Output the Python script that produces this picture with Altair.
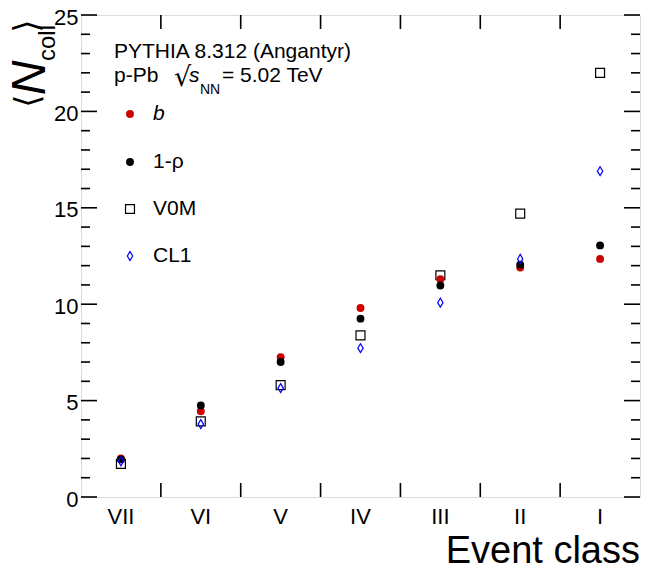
import altair as alt
import pandas as pd

categories = ["VII", "VI", "V", "IV", "III", "II", "I"]
ncoll_b = [2.0, 4.45, 7.25, 9.8, 11.3, 11.9, 12.35]
ncoll_rho = [1.95, 4.75, 7.0, 9.25, 10.97, 12.05, 13.05]
ncoll_v0m = [1.72, 3.92, 5.8, 8.38, 11.5, 14.7, 22.0]
ncoll_cl1 = [1.85, 3.78, 5.65, 7.72, 10.08, 12.35, 16.9]
y_major = [0, 5, 10, 15, 20, 25]
y_minor = [v for v in range(0, 26) if v % 5 != 0]
legend_labels = ["b", "1-ρ", "V0M", "CL1"]

W, H = 559, 482
FONT = "Liberation Sans"
RED = "#cc0000"
BLUE = "#0000ff"
DIAMOND = "M0,-1L0.6,0L0,1L-0.6,0Z"

def series(vals):
    return pd.DataFrame({"cat": categories, "v": vals})

xscale = alt.Scale(type="band", domain=categories, paddingInner=0, paddingOuter=0)
yscale = alt.Scale(domain=[0, 25], nice=False, zero=False)

xaxis = alt.Axis(title=None, ticks=False, domain=False, grid=False, labelAngle=0,
                 labelFont=FONT, labelFontSize=22, labelColor="black", labelPadding=9)
yaxis = alt.Axis(title=None, ticks=False, domain=False, grid=False, values=y_major,
                 labelFont=FONT, labelFontSize=22, labelColor="black", labelPadding=3,
                 labelOffset=2)

X = lambda **kw: alt.X("cat:N", scale=xscale, axis=xaxis, **kw)
Y = lambda: alt.Y("v:Q", scale=yscale, axis=yaxis)

def pts(vals, shape, size, filled, color):
    return alt.Chart(series(vals)).mark_point(shape=shape, size=size, filled=filled,
                                               color=color, opacity=1, strokeWidth=1.2).encode(
        x=X(), y=Y())

square = pts(ncoll_v0m, "square", 80, False, "black")
red = pts(ncoll_b, "circle", 62, True, RED)
black = pts(ncoll_rho, "circle", 62, True, "black")
diam = pts(ncoll_cl1, DIAMOND, 80, False, BLUE)

# ticks
ymaj = pd.DataFrame({"v": y_major})
ymin = pd.DataFrame({"v": y_minor})
def yticks(df, length):
    left = alt.Chart(df).mark_rule(color="black", strokeWidth=1.6).encode(
        y=Y(), x=alt.value(0), x2=alt.value(length))
    right = alt.Chart(df).mark_rule(color="black", strokeWidth=1.6).encode(
        y=Y(), x=alt.value(W - length), x2=alt.value(W))
    return left + right

bnd = pd.DataFrame({"cat": categories[1:]})
xt_top = alt.Chart(bnd).mark_rule(color="black", strokeWidth=1.6).encode(
    x=X(bandPosition=0), y=alt.value(0), y2=alt.value(14))
xt_bot = alt.Chart(bnd).mark_rule(color="black", strokeWidth=1.6).encode(
    x=X(bandPosition=0), y=alt.value(H - 14), y2=alt.value(H))

one = pd.DataFrame({"a": [0]})
def txt(s, x, y, size=21, style="normal", align="left", baseline="alphabetic", angle=0, font=FONT):
    return alt.Chart(one).mark_text(text=s, fontSize=size, font=font, fontStyle=style, align=align,
                                    baseline=baseline, angle=angle, color="black").encode(
        x=alt.value(x), y=alt.value(y))

def lpt(shape, size, filled, color, y):
    return alt.Chart(one).mark_point(shape=shape, size=size, filled=filled, color=color,
                                     opacity=1, strokeWidth=1.2).encode(x=alt.value(49), y=alt.value(y))

annot = [
    txt("PYTHIA 8.312 (Angantyr)", 33, 43),
    txt("p-Pb", 33, 67),
    txt("√", 93, 71, size=27, font="DejaVu Sans"),
    txt("s", 108, 67, style="italic"),
    txt("NN", 119, 79, size=14),
    txt("= 5.02 TeV", 141, 67),
    lpt("circle", 62, True, RED, 99),
    txt(legend_labels[0], 72, 99, style="italic", baseline="middle"),
    lpt("circle", 62, True, "black", 147),
    txt(legend_labels[1], 72, 147, baseline="middle"),
    lpt("square", 80, False, "black", 194),
    txt(legend_labels[2], 72, 194, baseline="middle"),
    lpt(DIAMOND, 80, False, BLUE, 241),
    txt(legend_labels[3], 72, 241, baseline="middle"),
    # y title
    txt("⟩", -53, 11, size=34, align="center", baseline="middle", angle=270, font="DejaVu Sans"),
    txt("coll", -26, 28, size=24, align="center", angle=270),
    txt("N", -36, 63, size=48, style="italic", align="center", angle=270),
    txt("⟨", -52, 86, size=34, align="center", baseline="middle", angle=270, font="DejaVu Sans"),
    # x title
    txt("Event class", W, 548, size=38, align="right"),
]

chart = alt.layer(
    square, red, black, diam,
    yticks(ymaj, 16), yticks(ymin, 9), xt_top, xt_bot,
    *annot,
).properties(
    width=W, height=H,
    autosize=alt.AutoSizeParams(type="none"),
    padding={"left": 73, "top": 7, "right": 1, "bottom": 67},
).configure_view(stroke="black", strokeWidth=2).configure(background="white")

chart.save("out.html", embed_options={"renderer": "svg", "actions": False})
